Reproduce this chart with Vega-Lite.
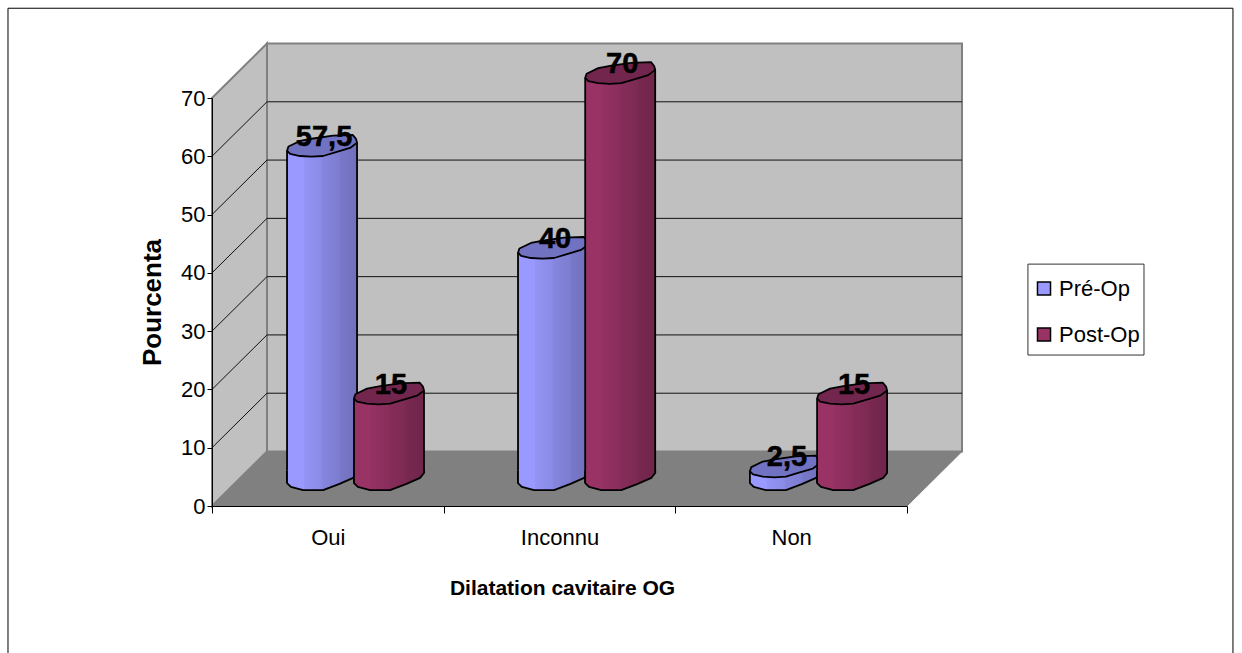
{
  "$schema": "https://vega.github.io/schema/vega-lite/v6.json",
  "width": 695,
  "height": 408,
  "autosize": "none",
  "padding": {"left": 212, "top": 98, "right": 335, "bottom": 147},
  "background": "white",
  "config": {"font": "Liberation Sans", "view": {"stroke": null}},
  "data": {"name": "survey"},
  "datasets": {
    "survey": [
      {"category": "Oui", "series": "Pré-Op", "value": 57.5, "label": "57,5", "at": 0.475},
      {"category": "Oui", "series": "Post-Op", "value": 15, "label": "15", "at": 0.764},
      {"category": "Inconnu", "series": "Pré-Op", "value": 40, "label": "40", "at": 1.472},
      {"category": "Inconnu", "series": "Post-Op", "value": 70, "label": "70", "at": 1.762},
      {"category": "Non", "series": "Pré-Op", "value": 2.5, "label": "2,5", "at": 2.473},
      {"category": "Non", "series": "Post-Op", "value": 15, "label": "15", "at": 2.763}
    ],
    "outerFrame": [{"at": -0.8806, "at2": 4.407, "level": 85.4, "level2": -26.4}],
    "legendBox": [{"at": 3.522, "at2": 4.023, "level": 41.5, "level2": 25.9}],
    "backWall": [{"at": 0.2374, "at2": 3.2374, "level": 79.35, "level2": 9.35}],
    "sideWall": [
      {"at": 0, "level": 70, "level2": 0},
      {"at": 0.2374, "level": 79.35, "level2": 9.35}
    ],
    "floor": [
      {"at": 0, "level": 0, "level2": 0},
      {"at": 0.2374, "level": 9.35, "level2": 0},
      {"at": 3, "level": 9.35, "level2": 0},
      {"at": 3.2374, "level": 9.35, "level2": 9.35}
    ],
    "gridlines": [
      {"tick": 10, "at": 0, "level": 10}, {"tick": 10, "at": 0.2374, "level": 19.35}, {"tick": 10, "at": 3.2374, "level": 19.35},
      {"tick": 20, "at": 0, "level": 20}, {"tick": 20, "at": 0.2374, "level": 29.35}, {"tick": 20, "at": 3.2374, "level": 29.35},
      {"tick": 30, "at": 0, "level": 30}, {"tick": 30, "at": 0.2374, "level": 39.35}, {"tick": 30, "at": 3.2374, "level": 39.35},
      {"tick": 40, "at": 0, "level": 40}, {"tick": 40, "at": 0.2374, "level": 49.35}, {"tick": 40, "at": 3.2374, "level": 49.35},
      {"tick": 50, "at": 0, "level": 50}, {"tick": 50, "at": 0.2374, "level": 59.35}, {"tick": 50, "at": 3.2374, "level": 59.35},
      {"tick": 60, "at": 0, "level": 60}, {"tick": 60, "at": 0.2374, "level": 69.35}, {"tick": 60, "at": 3.2374, "level": 69.35}
    ]
  },
  "encoding": {
    "x": {"field": "at", "type": "quantitative", "scale": {"domain": [0, 3]}, "axis": null},
    "y": {"field": "value", "type": "quantitative", "scale": {"domain": [0, 70]}, "axis": null}
  },
  "resolve": {
    "scale": {"x": "independent"},
    "axis": {"x": "independent", "y": "independent"}
  },
  "layer": [
    {
      "data": {"name": "outerFrame"},
      "mark": {"type": "rect", "fill": null, "fillOpacity": 0, "stroke": "black", "strokeWidth": 1},
      "encoding": {
        "x2": {"field": "at2"},
        "y": {"field": "level", "type": "quantitative", "scale": {"domain": [0, 70]}, "axis": null},
        "y2": {"field": "level2"}
      }
    },
    {
      "data": {"name": "legendBox"},
      "mark": {"type": "rect", "fill": "white", "stroke": "#333333", "strokeWidth": 1},
      "encoding": {
        "x2": {"field": "at2"},
        "y": {"field": "level", "type": "quantitative", "scale": {"domain": [0, 70]}, "axis": null},
        "y2": {"field": "level2"}
      }
    },
    {
      "data": {"name": "backWall"},
      "mark": {"type": "rect", "fill": "#c0c0c0", "stroke": "#808080", "strokeWidth": 2},
      "encoding": {
        "x2": {"field": "at2"},
        "y": {"field": "level", "type": "quantitative", "scale": {"domain": [0, 70]}, "axis": null},
        "y2": {"field": "level2"}
      }
    },
    {
      "data": {"name": "sideWall"},
      "mark": {"type": "area", "orient": "vertical", "fill": "#c0c0c0", "stroke": "#808080", "strokeWidth": 2},
      "encoding": {
        "y": {"field": "level", "type": "quantitative", "scale": {"domain": [0, 70]}, "axis": null},
        "y2": {"field": "level2"}
      }
    },
    {
      "data": {"name": "floor"},
      "mark": {"type": "area", "orient": "vertical", "fill": "#808080", "stroke": "#808080", "strokeWidth": 1},
      "encoding": {
        "y": {"field": "level", "type": "quantitative", "scale": {"domain": [0, 70]}, "axis": null},
        "y2": {"field": "level2"}
      }
    },
    {
      "data": {"name": "gridlines"},
      "mark": {"type": "line", "stroke": "#111111", "strokeWidth": 1},
      "encoding": {
        "detail": {"field": "tick"},
        "y": {"field": "level", "type": "quantitative", "scale": {"domain": [0, 70]}, "axis": null}
      }
    },
    {
      "mark": {"type": "bar", "opacity": 0},
      "encoding": {
        "x": {
          "field": "category",
          "type": "nominal",
          "sort": ["Oui", "Inconnu", "Non"],
          "scale": {"paddingInner": 0, "paddingOuter": 0},
          "axis": {
            "title": "Dilatation cavitaire OG",
            "titleFont": "Liberation Sans",
            "titleFontSize": 21,
            "titleFontWeight": "bold",
            "titleColor": "black",
            "titlePadding": 29,
            "titleX": 350,
            "labelFont": "Liberation Sans",
            "labelFontSize": 22,
            "labelColor": "black",
            "labelAngle": 0,
            "labelPadding": 14,
            "labelFlush": false,
            "tickBand": "extent",
            "tickSize": 7,
            "tickColor": "black",
            "domainColor": "black",
            "grid": false,
            "zindex": 1
          }
        },
        "y": {
          "field": "value",
          "type": "quantitative",
          "scale": {"domain": [0, 70]},
          "axis": {
            "title": "Pourcenta",
            "titleFont": "Liberation Sans",
            "titleFontSize": 26,
            "titleFontWeight": "bold",
            "titleColor": "black",
            "titlePadding": 15,
            "labelFont": "Liberation Sans",
            "labelFontSize": 22,
            "labelColor": "black",
            "labelPadding": 2,
            "values": [0, 10, 20, 30, 40, 50, 60, 70],
            "tickSize": 5,
            "tickColor": "black",
            "domainColor": "black",
            "grid": false,
            "zindex": 1
          }
        }
      }
    },
    {
      "mark": {"type": "rect", "xOffset": -35, "x2Offset": 35, "yOffset": -20, "y2Offset": -35},
      "encoding": {
        "x2": {"field": "at"},
        "y2": {"datum": 0},
        "fill": {
          "field": "series",
          "type": "nominal",
          "scale": {"domain": ["Pré-Op", "Post-Op"], "range": ["#9999ff", "#993366"]},
          "legend": {
            "title": null,
            "orient": "none",
            "legendX": 816,
            "legendY": 174.5,
            "padding": 5,
            "symbolType": "square",
            "symbolSize": 170,
            "symbolStrokeColor": "black",
            "symbolStrokeWidth": 1.5,
            "symbolOpacity": 1,
            "labelFont": "Liberation Sans",
            "labelFontSize": 22,
            "labelColor": "black",
            "labelOffset": 4,
            "rowPadding": 24
          }
        }
      }
    },
    {
      "transform": [{"filter": "datum.series === 'Pré-Op'"}],
      "mark": {
        "type": "rect", "xOffset": -35, "x2Offset": 35, "yOffset": -20, "y2Offset": -35,
        "fill": {"gradient": "linear", "stops": [
          {"offset": 0, "color": "#9999ff"}, {"offset": 0.24, "color": "#9999ff"},
          {"offset": 0.24, "color": "#9494f5"}, {"offset": 0.5, "color": "#8a8ae6"},
          {"offset": 0.5, "color": "#8686de"}, {"offset": 0.75, "color": "#7c7cd0"},
          {"offset": 0.75, "color": "#7878c8"}, {"offset": 1, "color": "#7070bc"}
        ]}
      },
      "encoding": {"x2": {"field": "at"}, "y2": {"datum": 0}}
    },
    {
      "transform": [{"filter": "datum.series === 'Pré-Op'"}],
      "mark": {
        "type": "point", "filled": true, "opacity": 1, "size": 4900, "yOffset": -25, "strokeWidth": 0,
        "shape": "M-1,0.14 L1,-0.09 1,0.2 -1,0.2 Z",
        "fill": {"gradient": "linear", "stops": [
          {"offset": 0, "color": "#9999ff"}, {"offset": 0.24, "color": "#9999ff"},
          {"offset": 0.24, "color": "#9494f5"}, {"offset": 0.5, "color": "#8a8ae6"},
          {"offset": 0.5, "color": "#8686de"}, {"offset": 0.75, "color": "#7c7cd0"},
          {"offset": 0.75, "color": "#7878c8"}, {"offset": 1, "color": "#7070bc"}
        ]}
      }
    },
    {
      "transform": [{"filter": "datum.series === 'Pré-Op'"}],
      "mark": {"type": "rule", "stroke": "black", "strokeWidth": 1.8, "xOffset": -35, "yOffset": -20, "y2Offset": -23},
      "encoding": {"y2": {"datum": 0}}
    },
    {
      "transform": [{"filter": "datum.series === 'Pré-Op'"}],
      "mark": {"type": "rule", "stroke": "black", "strokeWidth": 1.8, "xOffset": 35, "yOffset": -28, "y2Offset": -33},
      "encoding": {"y2": {"datum": 0}}
    },
    {
      "transform": [{"filter": "datum.series === 'Pré-Op'"}],
      "mark": {
        "type": "point", "filled": true, "opacity": 1, "size": 4900, "yOffset": -25,
        "shape": "M1,-0.3 L1,-0.23 0.89,-0.09 0.5,0.08 0.03,0.26 -0.54,0.26 -0.89,0.17 -1,0.06 -1,-0.3",
        "stroke": "black", "strokeWidth": 1.8, "strokeJoin": "round",
        "fill": {"gradient": "linear", "stops": [
          {"offset": 0, "color": "#9999ff"}, {"offset": 0.24, "color": "#9999ff"},
          {"offset": 0.24, "color": "#9494f5"}, {"offset": 0.5, "color": "#8a8ae6"},
          {"offset": 0.5, "color": "#8686de"}, {"offset": 0.75, "color": "#7c7cd0"},
          {"offset": 0.75, "color": "#7878c8"}, {"offset": 1, "color": "#7070bc"}
        ]}
      },
      "encoding": {"y": {"datum": 0, "type": "quantitative", "scale": {"domain": [0, 70]}, "axis": null}}
    },
    {
      "transform": [{"filter": "datum.series === 'Pré-Op'"}],
      "mark": {
        "type": "point", "filled": true, "opacity": 1, "size": 4900, "yOffset": -25,
        "shape": "M-1,0.14 L-0.96,0.02 -0.63,-0.14 -0.25,-0.21 0.31,-0.29 0.88,-0.31 0.97,-0.2 1,-0.09 0.8,0.06 0.4,0.18 0.03,0.29 -0.3,0.31 -0.63,0.29 -0.91,0.23 Z",
        "stroke": "black", "strokeWidth": 1.8, "strokeJoin": "round",
        "fill": "#7272c2"
      }
    },
    {
      "transform": [{"filter": "datum.series === 'Post-Op'"}],
      "mark": {
        "type": "rect", "xOffset": -35, "x2Offset": 35, "yOffset": -20, "y2Offset": -35,
        "fill": {"gradient": "linear", "stops": [
          {"offset": 0, "color": "#993366"}, {"offset": 0.24, "color": "#993366"},
          {"offset": 0.24, "color": "#943163"}, {"offset": 0.5, "color": "#8a2e5c"},
          {"offset": 0.5, "color": "#862d59"}, {"offset": 0.75, "color": "#7c2a53"},
          {"offset": 0.75, "color": "#78284f"}, {"offset": 1, "color": "#70254b"}
        ]}
      },
      "encoding": {"x2": {"field": "at"}, "y2": {"datum": 0}}
    },
    {
      "transform": [{"filter": "datum.series === 'Post-Op'"}],
      "mark": {
        "type": "point", "filled": true, "opacity": 1, "size": 4900, "yOffset": -25, "strokeWidth": 0,
        "shape": "M-1,0.14 L1,-0.09 1,0.2 -1,0.2 Z",
        "fill": {"gradient": "linear", "stops": [
          {"offset": 0, "color": "#993366"}, {"offset": 0.24, "color": "#993366"},
          {"offset": 0.24, "color": "#943163"}, {"offset": 0.5, "color": "#8a2e5c"},
          {"offset": 0.5, "color": "#862d59"}, {"offset": 0.75, "color": "#7c2a53"},
          {"offset": 0.75, "color": "#78284f"}, {"offset": 1, "color": "#70254b"}
        ]}
      }
    },
    {
      "transform": [{"filter": "datum.series === 'Post-Op'"}],
      "mark": {"type": "rule", "stroke": "black", "strokeWidth": 1.8, "xOffset": -35, "yOffset": -20, "y2Offset": -23},
      "encoding": {"y2": {"datum": 0}}
    },
    {
      "transform": [{"filter": "datum.series === 'Post-Op'"}],
      "mark": {"type": "rule", "stroke": "black", "strokeWidth": 1.8, "xOffset": 35, "yOffset": -28, "y2Offset": -33},
      "encoding": {"y2": {"datum": 0}}
    },
    {
      "transform": [{"filter": "datum.series === 'Post-Op'"}],
      "mark": {
        "type": "point", "filled": true, "opacity": 1, "size": 4900, "yOffset": -25,
        "shape": "M1,-0.3 L1,-0.23 0.89,-0.09 0.5,0.08 0.03,0.26 -0.54,0.26 -0.89,0.17 -1,0.06 -1,-0.3",
        "stroke": "black", "strokeWidth": 1.8, "strokeJoin": "round",
        "fill": {"gradient": "linear", "stops": [
          {"offset": 0, "color": "#993366"}, {"offset": 0.24, "color": "#993366"},
          {"offset": 0.24, "color": "#943163"}, {"offset": 0.5, "color": "#8a2e5c"},
          {"offset": 0.5, "color": "#862d59"}, {"offset": 0.75, "color": "#7c2a53"},
          {"offset": 0.75, "color": "#78284f"}, {"offset": 1, "color": "#70254b"}
        ]}
      },
      "encoding": {"y": {"datum": 0, "type": "quantitative", "scale": {"domain": [0, 70]}, "axis": null}}
    },
    {
      "transform": [{"filter": "datum.series === 'Post-Op'"}],
      "mark": {
        "type": "point", "filled": true, "opacity": 1, "size": 4900, "yOffset": -25,
        "shape": "M-1,0.14 L-0.96,0.02 -0.63,-0.14 -0.25,-0.21 0.31,-0.29 0.88,-0.31 0.97,-0.2 1,-0.09 0.8,0.06 0.4,0.18 0.03,0.29 -0.3,0.31 -0.63,0.29 -0.91,0.23 Z",
        "stroke": "black", "strokeWidth": 1.8, "strokeJoin": "round",
        "fill": "#73264d"
      }
    },
    {
      "mark": {
        "type": "text", "font": "Liberation Sans", "fontSize": 29, "fontWeight": "bold",
        "fill": "black", "stroke": "black", "strokeWidth": 0.5,
        "align": "center", "baseline": "alphabetic", "xOffset": 2, "yOffset": -25
      },
      "encoding": {"text": {"field": "label", "type": "nominal"}}
    }
  ]
}
